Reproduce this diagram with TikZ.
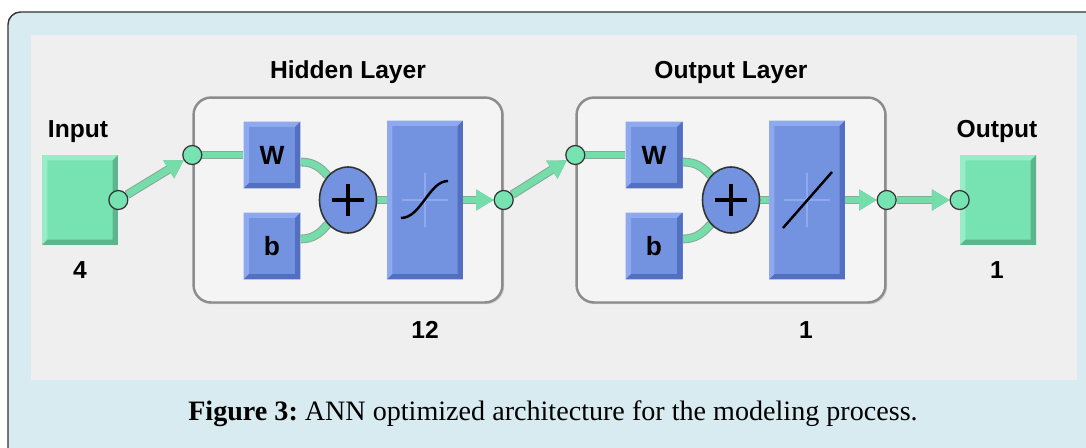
\documentclass[tikz,border=0pt]{standalone}
\usepackage{fontspec}
\setmainfont{Liberation Serif}
\newfontfamily\nnfont{Liberation Sans}
\usetikzlibrary{shapes.geometric,arrows.meta,shadows}

\definecolor{framebg}{HTML}{D8EBF0}
\definecolor{panelbg}{HTML}{EFEFEF}
\definecolor{layerbg}{HTML}{F4F4F4}
\definecolor{nngreen}{HTML}{77E3B3}
\definecolor{nngreenlt}{HTML}{98EDC8}
\definecolor{nngreendk}{HTML}{5BB58D}
\definecolor{nnblue}{HTML}{7393E0}
\definecolor{nnbluelt}{HTML}{8EA9EE}
\definecolor{nnbluedk}{HTML}{5370C0}
\definecolor{nnwire}{HTML}{74DDAA}
\definecolor{nnwireedge}{HTML}{8AA898}

\pgfdeclarelayer{back}
\pgfdeclarelayer{wires}
\pgfsetlayers{back,wires,main}

% bevelled edge of the blocks
\newcommand\bevelpic[2]{%
  \fill[#1] (path picture bounding box.south west) -- (path picture bounding box.north west)
    -- (path picture bounding box.north east) -- ++(-3pt,-3pt)
    -- ([shift={(3pt,-3pt)}]path picture bounding box.north west)
    -- ([shift={(3pt,3pt)}]path picture bounding box.south west) -- cycle;
  \fill[#2] (path picture bounding box.south west) -- (path picture bounding box.south east)
    -- (path picture bounding box.north east) -- ++(-3pt,-3pt)
    -- ([shift={(-3pt,3pt)}]path picture bounding box.south east)
    -- ([shift={(3pt,3pt)}]path picture bounding box.south west) -- cycle;}

\tikzset{
  iobox/.style={fill=nngreen, minimum width=1.52cm, minimum height=1.8cm, inner sep=0pt,
    path picture={\bevelpic{nngreenlt}{nngreendk}}},
  wbox/.style={fill=nnblue, minimum width=1.14cm, minimum height=1.34cm, inner sep=0pt,
    font=\nnfont\bfseries\fontsize{15}{15}\selectfont,
    path picture={\bevelpic{nnbluelt}{nnbluedk}}},
  tfbox/.style={fill=nnblue, minimum width=1.52cm, minimum height=3.18cm, inner sep=0pt,
    path picture={\bevelpic{nnbluelt}{nnbluedk}}},
  sumnode/.style={ellipse, draw=black!80, line width=0.9pt, fill=nnblue,
    minimum width=1.14cm, minimum height=1.32cm, inner sep=0pt},
  layerbox/.style={draw=black!45, line width=1.4pt, fill=layerbg, rounded corners=0.35cm,
    minimum width=6.18cm, minimum height=4.1cm,
    drop shadow={opacity=0.25, shadow xshift=1pt, shadow yshift=-1pt}},
  port/.style={circle, draw=black!80, line width=0.7pt, fill=nngreen,
    minimum size=0.38cm, inner sep=0pt},
  wire/.style={draw=nnwire, line width=3.8pt,
    preaction={draw=nnwireedge, line width=5pt}},
  tip/.style={-{Triangle[length=10pt,width=12pt,line width=0.6pt,fill=nnwire]}},
  lbl/.style={anchor=base, inner sep=0pt, font=\nnfont\bfseries\fontsize{14}{14}\selectfont},
}

\begin{document}
\frenchspacing
\begin{tikzpicture}[x=0.02cm, y=-0.02cm]
  \useasboundingbox (0,0) rectangle (1086,447);

  % frame, panel and layers
  \begin{pgfonlayer}{back}
    \begin{scope}
      \clip (0,0) rectangle (1086,447);
      \fill[framebg, draw=black!80, line width=0.8pt, rounded corners=0.25cm] (8,12) rectangle (1120,480);
    \end{scope}
    \fill[panelbg] (31,35) rectangle (1077,380);
    \node[layerbox] (hid) at (348,200) {};
    \node[layerbox] (outl) at (731,200) {};
  \end{pgfonlayer}

  % blocks
  \node[iobox] (inbox) at (80,200) {};
  \node[wbox] (w1) at (272,155) {W};
  \node[wbox] (b1) at (272,246) {b};
  \node[sumnode] (sum1) at (348,200) {};
  \node[tfbox] (tf1) at (425,200) {};
  \node[wbox] (w2) at (654,155) {W};
  \node[wbox] (b2) at (654,246) {b};
  \node[sumnode] (sum2) at (731,200) {};
  \node[tfbox] (tf2) at (807,200) {};
  \node[iobox] (outbox) at (998,200) {};

  % ports
  \node[port] (c1) at (inbox.east) {};
  \node[port] (c2) at (hid.west |- w1) {};
  \node[port] (c3) at (hid.east) {};
  \node[port] (c4) at (outl.west |- w2) {};
  \node[port] (c5) at (outl.east) {};
  \node[port] (c6) at (outbox.west) {};

  % connections
  \begin{pgfonlayer}{wires}
    \draw[wire,tip] (c1) -- (c2);
    \draw[wire] (c2) -- (w1);
    \draw[wire] ([yshift=-4]w1.east) to[out=0,in=130] (sum1);
    \draw[wire] ([yshift=4]b1.east) to[out=0,in=-130] (sum1);
    \draw[wire] (sum1) -- (tf1);
    \draw[wire,tip] (tf1) -- (c3);
    \draw[wire,tip] (c3) -- (c4);
    \draw[wire] (c4) -- (w2);
    \draw[wire] ([yshift=-4]w2.east) to[out=0,in=130] (sum2);
    \draw[wire] ([yshift=4]b2.east) to[out=0,in=-130] (sum2);
    \draw[wire] (sum2) -- (tf2);
    \draw[wire,tip] (tf2) -- (c5);
    \draw[wire,tip] (c5) -- (c6);
  \end{pgfonlayer}

  % plus signs
  \foreach \s in {sum1,sum2} {
    \draw[line width=1.8pt] ([shift={(-16,0)}]\s.center) -- ([shift={(16,0)}]\s.center);
    \draw[line width=1.8pt] ([shift={(0,-16)}]\s.center) -- ([shift={(0,16)}]\s.center);
  }

  % transfer functions
  \foreach \t in {tf1,tf2} {
    \draw[nnbluelt, line width=1.2pt] ([shift={(-23,0)}]\t.center) -- ([shift={(23,0)}]\t.center);
    \draw[nnbluelt, line width=1.2pt] ([shift={(0,-27)}]\t.center) -- ([shift={(0,27)}]\t.center);
  }
  \draw[line width=1.4pt] ([shift={(-24,18)}]tf1.center)
    .. controls ([shift={(-4,18)}]tf1.center) and ([shift={(4,-19)}]tf1.center) .. ([shift={(23,-19)}]tf1.center);
  \draw[line width=1.4pt] ([shift={(-24,28)}]tf2.center) -- ([shift={(25,-28)}]tf2.center);

  % labels
  \node[lbl] (tin) at (78,137) {Input};
  \node[lbl] (nin) at (80,278) {4};
  \node[lbl] (thid) at (348,78) {Hidden Layer};
  \node[lbl] (nhid) at (425,338) {12};
  \node[lbl] (toutl) at (731,78) {Output Layer};
  \node[lbl] (noutl) at (806,338) {1};
  \node[lbl] (tout) at (997,137) {Output};
  \node[lbl] (nout) at (997,278) {1};

  \node[anchor=base, inner sep=0pt, font=\fontsize{16}{16}\selectfont] (cap) at (553,420)
    {\textbf{Figure 3:} ANN optimized architecture for the modeling process.};
\end{tikzpicture}
\end{document}
